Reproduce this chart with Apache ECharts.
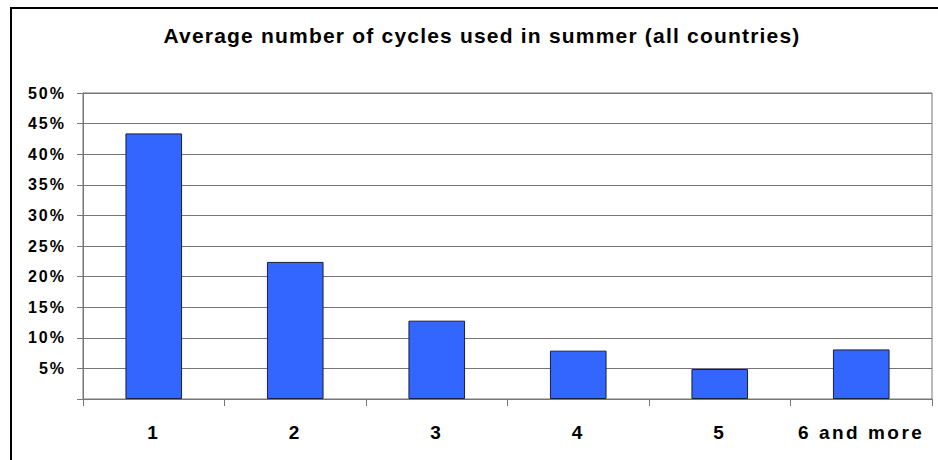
<!DOCTYPE html>
<html>
<head>
<meta charset="utf-8">
<script src="https://cdn.jsdelivr.net/npm/echarts@6/dist/echarts.min.js"></script>
<style>
  html, body { margin: 0; padding: 0; background: #fff; }
  #chart { width: 938px; height: 460px; }
</style>
</head>
<body>
<div id="chart"></div>
<script>
// Share of respondents by average number of cycles used in summer
const categories = ['1', '2', '3', '4', '5', '6 and more'];
const shares = [43.4, 22.4, 12.8, 7.9, 4.9, 8.1];
const yTicks = [0, 5, 10, 15, 20, 25, 30, 35, 40, 45, 50];
const titleText = 'Average number of cycles used in summer (all countries)';

const chart = echarts.init(document.getElementById('chart'), null, { renderer: 'svg' });

const FONT = '"Liberation Sans", Arial, sans-serif';
const GRID_GRAY = '#767676';

chart.setOption({
  animation: false,
  backgroundColor: '#ffffff',
  title: {
    text: titleText,
    left: 477,
    top: 20,
    textAlign: 'center',
    textStyle: { fontFamily: FONT, fontWeight: 'bold', fontSize: 21, color: '#000' }
  },
  graphic: [{
    type: 'rect',
    shape: { x: 11, y: 8, width: 1200, height: 1200 },
    style: { fill: 'none', stroke: '#000', lineWidth: 2 },
    silent: true
  }],
  grid: {
    left: 83, right: 6, top: 93, bottom: 61,
    show: true, borderColor: GRID_GRAY, borderWidth: 1, backgroundColor: 'transparent'
  },
  xAxis: {
    type: 'category',
    data: categories,
    axisLine: { lineStyle: { color: GRID_GRAY, width: 1 } },
    axisTick: { show: true, length: 7, inside: false, lineStyle: { color: GRID_GRAY } },
    axisLabel: {
      margin: 24, fontFamily: FONT, fontWeight: 'bold', fontSize: 19, color: '#000'
    }
  },
  yAxis: {
    type: 'value',
    min: yTicks[0],
    max: yTicks[yTicks.length - 1],
    interval: yTicks[1] - yTicks[0],
    axisLine: { show: true, lineStyle: { color: GRID_GRAY, width: 1 } },
    axisTick: { show: true, length: 6, lineStyle: { color: GRID_GRAY } },
    splitLine: { show: true, lineStyle: { color: GRID_GRAY, width: 1 } },
    axisLabel: {
      margin: 17, fontFamily: FONT, fontWeight: 'bold', fontSize: 16, color: '#000',
      formatter: v => (v === 0 ? '' : v + '%')
    }
  },
  series: [{
    type: 'bar',
    data: shares,
    barWidth: '40%',
    itemStyle: { color: '#3366ff', borderColor: '#1c1f3a', borderWidth: 1 }
  }]
});

// Widen the tracking of the bold labels a little
document.querySelectorAll('#chart text').forEach(t => {
  const s = t.textContent;
  let ls = 2;
  if (s === titleText) ls = 1.2;
  else if (categories.indexOf(s) >= 0) ls = 2.5;
  t.style.letterSpacing = ls + 'px';
});
</script>
</body>
</html>
